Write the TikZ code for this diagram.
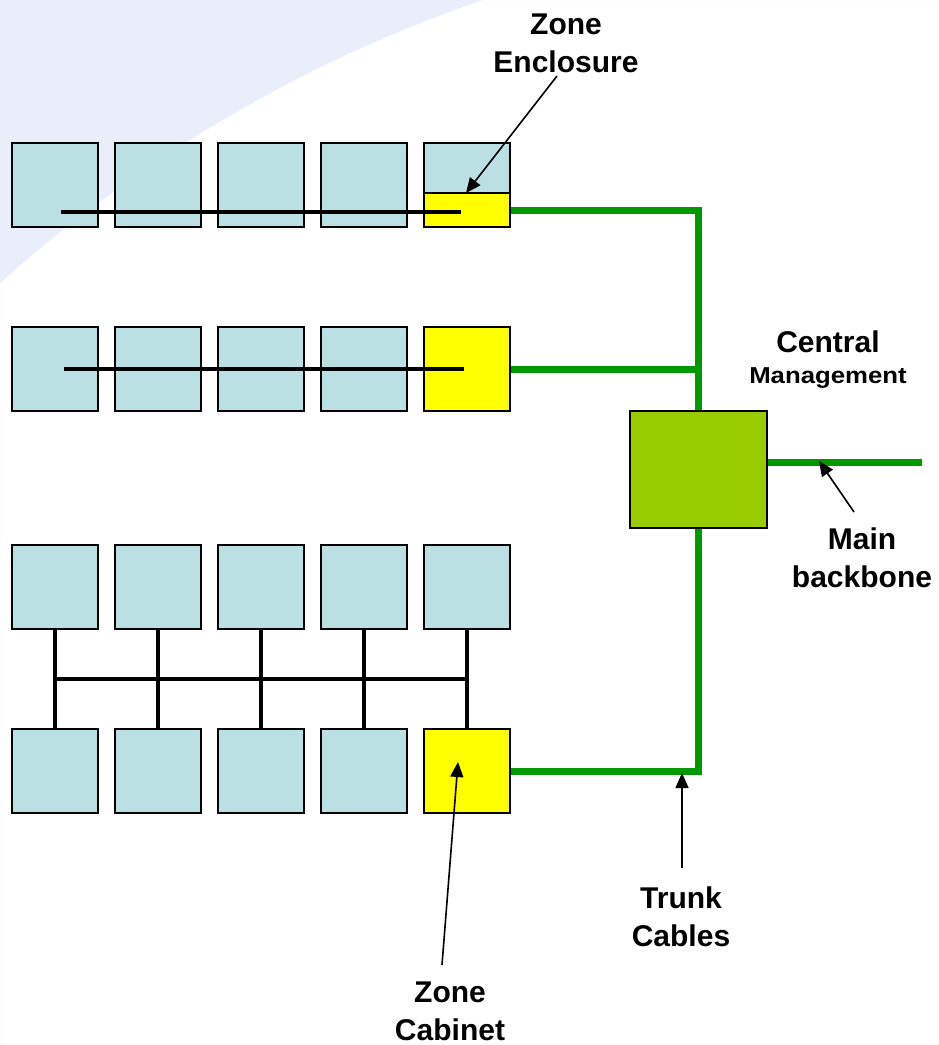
\documentclass[tikz,border=0pt]{standalone}
\usepackage{fontspec}
\usepackage{graphicx}
\setmainfont{Liberation Sans}
\usetikzlibrary{arrows.meta}
\definecolor{bgswoosh}{RGB}{233,238,250}
\definecolor{zonecyan}{RGB}{187,224,227}
\definecolor{zoneyellow}{RGB}{255,255,0}
\definecolor{trunkgreen}{RGB}{0,153,0}
\definecolor{cmgreen}{RGB}{153,204,0}
\tikzset{
  zonebox/.style={draw=black, line width=2pt, fill=zonecyan, minimum width=86pt, minimum height=84pt, inner sep=0pt},
  cabbox/.style={zonebox, fill=zoneyellow},
  encbox/.style={draw=black, line width=2pt, fill=zoneyellow, minimum width=86pt, minimum height=34pt, inner sep=0pt},
  cmbox/.style={draw=black, line width=2pt, fill=cmgreen, minimum width=137pt, minimum height=117pt, inner sep=0pt},
  hcable/.style={draw=black, line width=3.5pt},
  trunk/.style={draw=trunkgreen, line width=7pt, line join=miter},
  callout/.style={draw=black, line width=1.6pt, -{Triangle[length=15pt,width=13pt]}},
  lbl/.style={font=\bfseries\fontsize{30}{38}\selectfont, align=center, inner sep=0pt},
}
\begin{document}
\begin{tikzpicture}[x=1pt,y=-1pt]
\useasboundingbox (0,0) rectangle (938,1045);
% background swoosh
\begin{scope}
\clip (0,0) rectangle (938,1045);
\fill[bgswoosh, even odd rule] (0,0) rectangle (938,1045) (941,1336) circle[radius=1412pt];
\end{scope}
% rows 1 and 2
\foreach \c/\x in {1/55,2/158,3/261,4/364,5/467}{
  \node[zonebox] (r1c\c) at (\x,185) {};
}
\node[encbox] (enc) at (467,210) {};
\foreach \c/\x in {1/55,2/158,3/261,4/364}{
  \node[zonebox] (r2c\c) at (\x,369) {};
}
\node[cabbox] (r2c5) at (467,369) {};
% rows 3 and 4
\foreach \c/\x in {1/55,2/158,3/261,4/364,5/467}{
  \node[zonebox] (r3c\c) at (\x,587) {};
}
\foreach \c/\x in {1/55,2/158,3/261,4/364}{
  \node[zonebox] (r4c\c) at (\x,771) {};
}
\node[cabbox] (r4c5) at (467,771) {};
% horizontal cables
\coordinate (h1s) at (61,212); \coordinate (h1e) at (461,212);
\coordinate (h2s) at (64,369); \coordinate (h2e) at (464,369);
\draw[hcable] (h1s) -- (h1e);
\draw[hcable] (h2s) -- (h2e);
% bottom bus
\coordinate (busw) at (53,679); \coordinate (buse) at (469,679);
\draw[hcable] (busw) -- (buse);
\foreach \c in {1,...,5}{
  \draw[hcable] (r3c\c.south) -- (r4c\c.north);
}
% central management
\node[cmbox] (cm) at (698.5,469.5) {};
% trunk cables
\coordinate (t1) at (698.5,210);
\coordinate (t2) at (698.5,369);
\coordinate (t4) at (698.5,771);
\coordinate (bb) at (922,462);
\draw[trunk] (enc.east) -- (t1) -- (cm.north);
\draw[trunk] (r2c5.east) -- (t2);
\draw[trunk] (r4c5.east) -- (t4) -- (cm.south);
\draw[trunk] (cm.east |- bb) -- (bb);
% labels
\node[lbl] (lenc) at (566,43) {Zone\\Enclosure};
\node[lbl] (lcm) at (828,342) {Central};
\node[font=\bfseries\fontsize{23}{28}\selectfont, inner sep=0pt] (lcm2) at (828,378) {\scalebox{1.12}[1]{Management}};
\node[lbl] (lbb) at (862,558) {Main\\backbone};
\node[lbl] (ltc) at (681,917) {Trunk\\Cables};
\node[lbl] (lzc) at (450,1011) {Zone\\Cabinet};
% callouts
\coordinate (aenc0) at (557,76);  \coordinate (aenc1) at (466,193);
\coordinate (abb0) at (854,512);  \coordinate (abb1) at (819,461);
\coordinate (atc0) at (682,868);  \coordinate (atc1) at (682,773);
\coordinate (azc0) at (442,965);  \coordinate (azc1) at (458,762);
\draw[callout] (aenc0) -- (aenc1);
\draw[callout] (abb0) -- (abb1);
\draw[callout] (atc0) -- (atc1);
\draw[callout] (azc0) -- (azc1);
\end{tikzpicture}
\end{document}
